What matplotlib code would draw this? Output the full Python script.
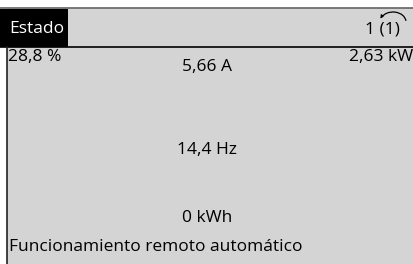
import matplotlib
matplotlib.use("Agg")
import matplotlib.pyplot as plt
from matplotlib.patches import Rectangle, Arc

plt.rcParams['font.family'] = ['Open Sans', 'DejaVu Sans']

header_title = "Estado"
header_page = "1 (1)"
top_left_value = "28,8 %"
top_center_value = "5,66 A"
top_right_value = "2,63 kW"
middle_value = "14,4 Hz"
bottom_value = "0 kWh"
status_text = "Funcionamiento remoto automático"

W, H = 414, 264
fig = plt.figure(figsize=(W / 100, H / 100), dpi=100)
ax = fig.add_axes([0, 0, 1, 1])
ax.set_xlim(0, W)
ax.set_ylim(H, 0)
ax.axis('off')
fig.patch.set_facecolor('white')

bg = '#d4d4d4'
ax.add_patch(Rectangle((7, 8), W - 7, H - 8, facecolor=bg, edgecolor='none'))
ax.add_patch(Rectangle((0, 8.5), W, 38.5, facecolor=bg, edgecolor='none'))
ax.add_patch(Rectangle((0, 9), 68, 38, facecolor='black', edgecolor='none'))
ax.plot([0, W], [8.3, 8.3], color='#6e6e6e', lw=1.3)
ax.plot([0, W], [47, 47], color='black', lw=1.2)
ax.plot([7, 7], [47, H], color='#222222', lw=1.2)

fs = 12.5
ax.text(9, 29, header_title, color='white', fontsize=fs, va='center', ha='left')
ax.text(400, 29.5, header_page, color='black', fontsize=fs, va='center', ha='right')
# arc arrow over the page indicator (y axis inverted: angles 180..360 lie above)
ax.add_patch(Arc((393, 22), 26, 20, theta1=200, theta2=355, color='black', lw=0.9))
ax.annotate('', xy=(380.5, 18.5), xytext=(381.8, 16.2),
            arrowprops=dict(arrowstyle='-|>', color='black', lw=0.6,
                            mutation_scale=5))

ax.text(8, 57, top_left_value, color='black', fontsize=fs, va='center', ha='left')
ax.text(207, 67, top_center_value, color='black', fontsize=fs, va='center', ha='center')
ax.text(413, 57, top_right_value, color='black', fontsize=fs, va='center', ha='right')
ax.text(207, 150, middle_value, color='black', fontsize=fs, va='center', ha='center')
ax.text(207, 218, bottom_value, color='black', fontsize=fs, va='center', ha='center')
ax.text(9, 247, status_text, color='black', fontsize=fs, va='center', ha='left')

fig.savefig('out.png', dpi=100)
